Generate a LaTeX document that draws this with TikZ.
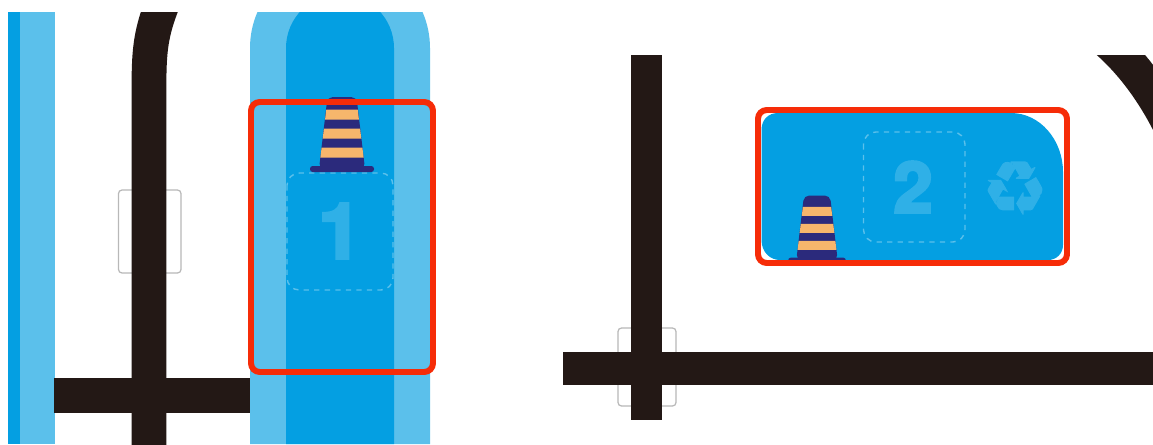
\documentclass[tikz,border=0pt]{standalone}
\usepackage{xcolor}
\usepackage{fontspec}
\setmainfont{Liberation Sans}
\newfontfamily\symfont[FakeBold=1.5]{DejaVu Sans}
\newfontfamily\numfont[BoldFeatures={FakeBold=4}]{TeX Gyre Heros}

\definecolor{laneblue}{HTML}{049FE2}
\definecolor{edgeblue}{HTML}{5BC0EB}
\definecolor{markblue}{HTML}{2FB0E7}
\definecolor{roadblack}{HTML}{231815}
\definecolor{framered}{HTML}{F62C08}
\definecolor{conenavy}{HTML}{2B2A7C}
\definecolor{coneorange}{HTML}{F6B66C}

\tikzset{
    roadcone/.pic={
        \fill[conenavy, rounded corners=3pt] (-23,-3) -- (-14.5,-75) -- (14.5,-75) -- (23,-3) -- cycle;
        \fill[conenavy, rounded corners=1.5pt] (-32,-6) rectangle (32,0);
        \foreach \d in {14.5,33.5,52.5} {
            \pgfmathsetmacro{\wa}{23.4-\d*0.123}
            \pgfmathsetmacro{\wb}{23.4-(\d+10)*0.123}
            \fill[coneorange] (-\wa,-\d) -- (-\wb,-\d-10) -- (\wb,-\d-10) -- (\wa,-\d) -- cycle;
        }
    }
}

\begin{document}
\begin{tikzpicture}[
    x=0.02cm, y=-0.02cm,
    road/.style={draw=roadblack, line width=19.8pt},
    sensor/.style={draw=black!28, line width=0.7pt, rounded corners=2pt},
    slot/.style={draw=edgeblue, line width=0.8pt, dash pattern=on 3pt off 3pt, rounded corners=7pt},
    frame/.style={draw=framered, line width=3.4pt, rounded corners=5pt},
    slotnum/.style={text=markblue, inner sep=0pt, font=\numfont\bfseries\fontsize{44}{44}\selectfont}
]
\useasboundingbox (0,0) rectangle (1153,444);
\fill[white] (0,0) rectangle (1153,444);

% left view
\begin{scope}
\clip (8,12) rectangle (430,444);
\fill[laneblue] (8,12) rectangle (20,444);
\fill[edgeblue] (20,12) rectangle (55,444);
\fill[edgeblue] (250,444) -- (250,48) arc[start angle=180, end angle=360, radius=90] -- (430,444) -- cycle;
\fill[laneblue] (286,444) -- (286,48) arc[start angle=180, end angle=360, radius=54] -- (394,444) -- cycle;
\draw[sensor] (118.5,190) rectangle (181,273);
\draw[road] (54,395.5) -- (250,395.5);
\draw[road] (149,450) -- (149,85) .. controls (149,50) and (151,32) .. (163,2);
\end{scope}
\draw[slot] (287,173) rectangle (393,290);
\node[slotnum] (one) at (340,231) {1};
\pic at (342,172) {roadcone};
\draw[frame] (251,102) rectangle (433,372);

% right view
\begin{scope}
\clip (563,55) rectangle (1153,444);
\draw[sensor] (618,328) rectangle (676,406);
\draw[road, line width=18.7pt] (563,368.5) -- (1153,368.5);
\draw[road, line width=17.6pt] (646.5,55) -- (646.5,420);
\draw[road] (1100,35) .. controls (1125,55) and (1150,85) .. (1170,125);
\end{scope}
\fill[laneblue] (778,113) -- (1011,113) .. controls (1040,113) and (1063,140) .. (1063,172)
    -- (1063,245) .. controls (1063,254) and (1056,260) .. (1048,260)
    -- (780,260) .. controls (770,260) and (761.5,252) .. (761.5,240)
    -- (761.5,130) .. controls (761.5,120) and (768,113) .. (778,113) -- cycle;
\draw[slot] (863.5,132) rectangle (965,242);
\node[slotnum, font=\numfont\bfseries\fontsize{40}{40}\selectfont] (two) at (913,187) {2};
\node[text=markblue, inner sep=0pt, font=\symfont\fontsize{42}{42}\selectfont] (recycle) at (1015,188) {♻};
\pic[scale=0.9] at (817,263) {roadcone};
\draw[frame] (758,110) rectangle (1067,263);
\end{tikzpicture}
\end{document}
